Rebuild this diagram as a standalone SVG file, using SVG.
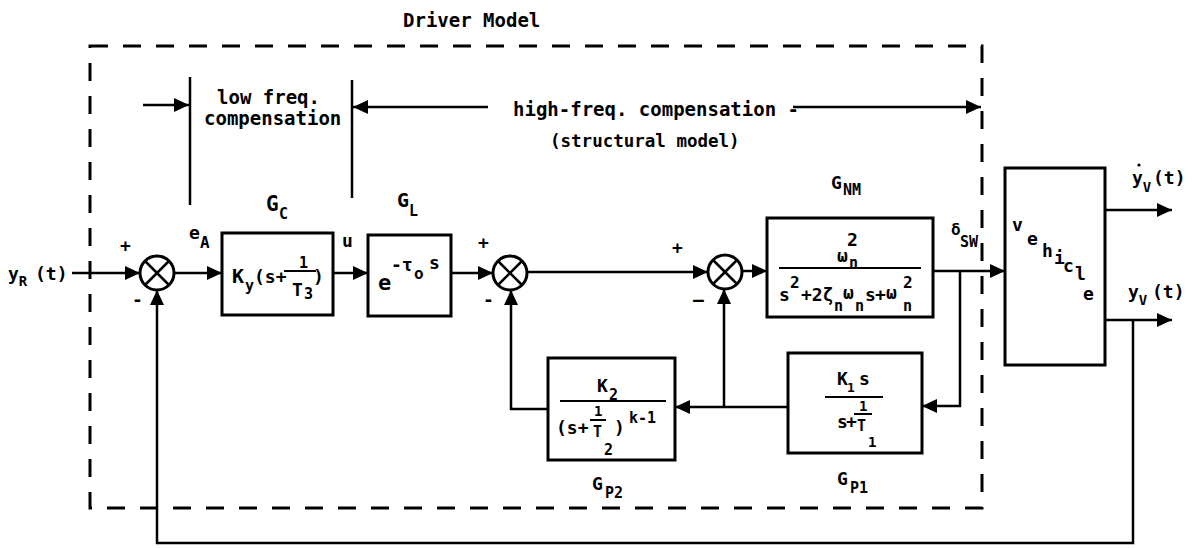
<svg xmlns="http://www.w3.org/2000/svg" width="1192" height="548" viewBox="0 0 1192 548">
<style>
text{font-family:"DejaVu Sans Mono","Liberation Mono",monospace;font-weight:bold;fill:#000}
.blk{fill:none;stroke:#000;stroke-width:3}
.ln{fill:none;stroke:#000;stroke-width:2.5}
.fr{stroke:#000;stroke-width:2}
.t19{font-size:19px}
.t18{font-size:18px}
.t15{font-size:15px}
</style>
<defs>
<marker id="ah" markerUnits="userSpaceOnUse" markerWidth="16" markerHeight="14" refX="15" refY="7" orient="auto">
<path d="M0,0 L15,7 L0,14 z" fill="#000"/>
</marker>
<g id="sumj">
<circle cx="0" cy="0" r="17" fill="#fff" stroke="#000" stroke-width="3"/>
<path d="M-12,-12 L12,12 M12,-12 L-12,12" stroke="#000" stroke-width="2.5"/>
</g>
</defs>
<rect width="1192" height="548" fill="#fff"/>

<g id="driver-model-boundary">
<rect x="90" y="46" width="892" height="462" fill="none" stroke="#000" stroke-width="3" stroke-dasharray="18 15"/>
<text x="403" y="27" class="t19">Driver Model</text>
</g>

<g id="compensation-annotations">
<line x1="190" y1="77" x2="190" y2="205" class="ln"/>
<line x1="352" y1="80" x2="352" y2="198" class="ln"/>
<line x1="143" y1="105" x2="189" y2="105" class="ln" marker-end="url(#ah)"/>
<line x1="488" y1="107" x2="353" y2="107" class="ln" marker-end="url(#ah)"/>
<line x1="793" y1="107" x2="981" y2="107" class="ln" marker-end="url(#ah)"/>
<text x="217" y="104" class="t19">low freq.</text>
<text x="204" y="125" class="t19">compensation</text>
<text x="513" y="116" class="t19">high-freq. compensation -</text>
<text x="550" y="147" style="font-size:17.5px">(structural model)</text>
</g>

<g id="connectors">
<line x1="72" y1="273" x2="140" y2="273" class="ln" marker-end="url(#ah)"/>
<line x1="174" y1="273" x2="222" y2="273" class="ln" marker-end="url(#ah)"/>
<line x1="333" y1="273" x2="368" y2="273" class="ln" marker-end="url(#ah)"/>
<line x1="451" y1="273" x2="493" y2="273" class="ln" marker-end="url(#ah)"/>
<line x1="527" y1="272" x2="708" y2="272" class="ln" marker-end="url(#ah)"/>
<line x1="742" y1="271" x2="767" y2="271" class="ln" marker-end="url(#ah)"/>
<line x1="933" y1="271" x2="1005" y2="271" class="ln" marker-end="url(#ah)"/>
<polyline points="960,271 960,406 922,406" class="ln" marker-end="url(#ah)"/>
<line x1="788" y1="407" x2="675" y2="407" class="ln" marker-end="url(#ah)"/>
<line x1="724" y1="407" x2="724" y2="289" class="ln" marker-end="url(#ah)"/>
<polyline points="548,409 511,409 511,290" class="ln" marker-end="url(#ah)"/>
<line x1="1105" y1="210" x2="1172" y2="210" class="ln" marker-end="url(#ah)"/>
<line x1="1105" y1="320" x2="1172" y2="320" class="ln" marker-end="url(#ah)"/>
<polyline points="1133,320 1133,543 157,543 157,290" class="ln" marker-end="url(#ah)"/>
</g>

<g id="input-label">
<text x="8" y="280" class="t18">y<tspan font-size="14" dy="6">R</tspan><tspan dy="-6" x="35">(t)</tspan></text>
<text x="120" y="252" class="t18">+</text>
<text x="132" y="306" class="t18">-</text>
</g>

<g id="sum1"><use href="#sumj" x="157" y="273"/></g>

<g id="ea-label">
<text x="189" y="239" class="t18">e</text>
<text x="200" y="248" style="font-size:16px">A</text>
</g>

<g id="GC">
<rect x="222" y="233" width="111" height="82" class="blk"/>
<text x="266" y="211" style="font-size:21px">G</text>
<text x="279" y="219" class="t15">C</text>
<text x="232" y="283" style="font-size:20px">K</text>
<text x="245" y="291" class="t15">y</text>
<text x="254" y="283" class="t18">(s+</text>
<line x1="284" y1="271" x2="316" y2="271" class="fr"/>
<text x="299" y="268" class="t15">1</text>
<text x="292" y="296" class="t18">T</text>
<text x="304" y="299" class="t15">3</text>
<text x="313" y="283" class="t18">)</text>
</g>

<g id="u-label"><text x="342" y="247" class="t18">u</text></g>

<g id="GL">
<rect x="368" y="235" width="83" height="81" class="blk"/>
<text x="397" y="207" style="font-size:20px">G</text>
<text x="409" y="216" class="t15">L</text>
<text x="378" y="290" style="font-size:22px">e</text>
<text x="391" y="271" class="t18">-τ</text>
<text x="414" y="279" style="font-size:16px">o</text>
<text x="429" y="269" class="t18">s</text>
</g>

<g id="sum2">
<use href="#sumj" x="510" y="273"/>
<text x="478" y="249" class="t18">+</text>
<text x="483" y="306" class="t18">-</text>
</g>

<g id="sum3">
<use href="#sumj" x="725" y="272"/>
<text x="672" y="254" class="t18">+</text>
<text x="693" y="306" class="t18">–</text>
</g>

<g id="GNM">
<rect x="767" y="218" width="166" height="99" class="blk"/>
<text x="831" y="189" class="t18">G</text>
<text x="843" y="195" class="t15">NM</text>
<text x="837" y="262" class="t18">ω</text>
<text x="849" y="268" class="t15">n</text>
<text x="847" y="246" class="t18">2</text>
<line x1="779" y1="268" x2="921" y2="268" class="fr"/>
<text x="779" y="301" class="t18">s</text>
<text x="790" y="288" style="font-size:16px">2</text>
<text x="801" y="301" class="t18">+2ζ</text>
<text x="834" y="311" class="t15">n</text>
<text x="843" y="299" class="t18">ω</text>
<text x="855" y="311" class="t15">n</text>
<text x="865" y="301" class="t18">s</text>
<text x="875" y="301" class="t18">+</text>
<text x="886" y="299" class="t18">ω</text>
<text x="903" y="288" style="font-size:16px">2</text>
<text x="903" y="311" class="t15">n</text>
</g>

<g id="dsw-label">
<text x="951" y="235" style="font-size:16px">δ</text>
<text x="960" y="247" class="t15">SW</text>
</g>

<g id="vehicle">
<rect x="1005" y="168" width="100" height="197" class="blk"/>
<text class="t18"><tspan x="1012" y="231">v</tspan><tspan x="1027" y="245">e</tspan><tspan x="1042" y="257">h</tspan><tspan x="1054" y="264">i</tspan><tspan x="1063" y="272">c</tspan><tspan x="1075" y="280">l</tspan><tspan x="1083" y="300">e</tspan></text>
</g>

<g id="output-labels">
<text x="1132" y="184" class="t18">y<tspan font-size="14" dy="8">V</tspan><tspan dy="-8" x="1153">(t)</tspan></text>
<circle cx="1139" cy="165" r="1.6" fill="#000"/>
<text x="1128" y="298" class="t18">y<tspan font-size="14" dy="7">V</tspan><tspan dy="-7" x="1152">(t)</tspan></text>
</g>

<g id="GP1">
<rect x="788" y="353" width="134" height="100" class="blk"/>
<text x="837" y="385" class="t18">K</text>
<text x="847" y="392" style="font-size:13px">1</text>
<text x="859" y="385" class="t18">s</text>
<line x1="825" y1="397" x2="883" y2="397" class="fr"/>
<text x="837" y="428" class="t18">s</text>
<text x="846" y="428" class="t18">+</text>
<text x="859" y="411" style="font-size:14px">1</text>
<line x1="854" y1="414" x2="872" y2="414" class="fr"/>
<text x="857" y="431" class="t15">T</text>
<text x="868" y="447" style="font-size:14px">1</text>
<text x="837" y="485" class="t18">G</text>
<text x="850" y="493" class="t15">P1</text>
</g>

<g id="GP2">
<rect x="548" y="358" width="127" height="102" class="blk"/>
<text x="597" y="392" class="t18">K</text>
<text x="609" y="400" class="t15">2</text>
<line x1="560" y1="401" x2="666" y2="401" class="fr"/>
<text x="556" y="434" class="t18">(s+</text>
<text x="594" y="416" style="font-size:14px">1</text>
<line x1="590" y1="420" x2="606" y2="420" class="fr"/>
<text x="593" y="437" class="t15">T</text>
<text x="604" y="455" class="t15">2</text>
<text x="614" y="434" class="t18">)</text>
<text x="629" y="423" class="t15">k-1</text>
<text x="592" y="490" class="t18">G</text>
<text x="605" y="498" class="t15">P2</text>
</g>
</svg>
